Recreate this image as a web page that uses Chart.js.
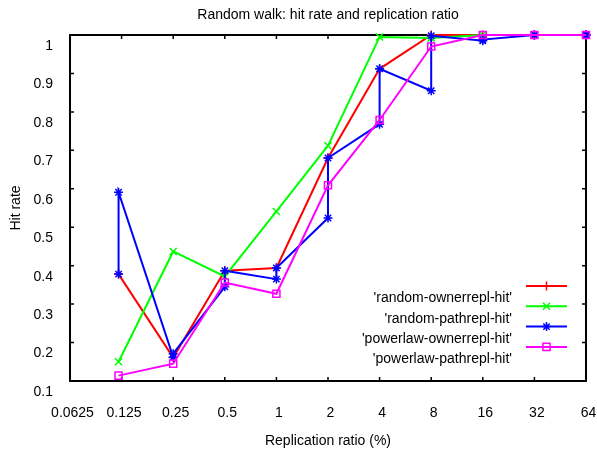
<!DOCTYPE html>
<html>
<head>
<meta charset="utf-8">
<script src="https://cdn.jsdelivr.net/npm/chart.js@4.4.1/dist/chart.umd.min.js"></script>
<style>
  body { margin: 0; background: #fff; }
  #hitChart { display: block; }
</style>
</head>
<body>
<canvas id="hitChart" width="597" height="452"></canvas>
<script>
// replication ratio (%) of each measured point
const ratios = [0.12, 0.25, 0.5, 1, 2, 4, 8, 16, 32, 64];
const xTicks = [0.0625, 0.125, 0.25, 0.5, 1, 2, 4, 8, 16, 32, 64];

const randomOwnerHit = [0.378, 0.161, 0.387, 0.394, 0.680, 0.912, 1.0, 1.0, 1.0, 1.0];
const randomPathHit = [0.150, 0.437, 0.372, 0.541, 0.712, 0.995, 0.992, 1.0, 1.0, 1.0];
// powerlaw-ownerrepl has two runs per ratio, plotted one after the other
const powerlawOwnerHitA = [0.378, 0.162, 0.345, 0.365, 0.524, 0.768, 0.855, 0.985, 1.0, 1.0];
const powerlawOwnerHitB = [0.591, 0.171, 0.387, 0.394, 0.680, 0.912, 0.998, 0.988, 1.0, 1.0];
const powerlawPathHit = [0.114, 0.145, 0.356, 0.327, 0.609, 0.779, 0.970, 1.0, 1.0, 1.0];

const fontFamily = '"Liberation Sans", Arial, sans-serif';
Chart.defaults.font.family = fontFamily;
Chart.defaults.font.size = 14;
Chart.defaults.color = '#000';

function toPoints(xs, ys) {
    return xs.map((x, i) => ({ x: x, y: ys[i] }));
}

const powerlawOwnerPoints = [];
ratios.forEach((x, i) => {
    powerlawOwnerPoints.push({ x: x, y: powerlawOwnerHitA[i] });
    powerlawOwnerPoints.push({ x: x, y: powerlawOwnerHitB[i] });
});

// gnuplot style frame with inward ticks on all four sides
const framePlugin = {
    id: 'frame',
    beforeDatasetsDraw(chart) {
        const { ctx, chartArea: a } = chart;
        const xs = chart.scales.x, ys = chart.scales.y;
        ctx.save();
        ctx.strokeStyle = '#000';
        ctx.lineWidth = 1.5;
        ctx.beginPath();
        xs.ticks.forEach(t => {
            const px = xs.getPixelForValue(t.value);
            ctx.moveTo(px, a.bottom); ctx.lineTo(px, a.bottom - 4);
            ctx.moveTo(px, a.top); ctx.lineTo(px, a.top + 4);
        });
        ys.ticks.forEach(t => {
            const py = ys.getPixelForValue(t.value);
            ctx.moveTo(a.left, py); ctx.lineTo(a.left + 4, py);
            ctx.moveTo(a.right, py); ctx.lineTo(a.right - 4, py);
        });
        ctx.stroke();
        ctx.lineWidth = 2;
        ctx.strokeRect(a.left, a.top, a.right - a.left, a.bottom - a.top);
        ctx.restore();
    }
};

// key inside the plot, text on the left of each sample
const keyPlugin = {
    id: 'key',
    afterDatasetsDraw(chart) {
        const { ctx, chartArea: a } = chart;
        const right = a.right - 19, left = right - 41;
        chart.data.datasets.forEach((ds, i) => {
            const y = a.bottom - 95 + i * 20.3;
            ctx.save();
            ctx.strokeStyle = ds.borderColor;
            ctx.lineWidth = 2;
            ctx.beginPath();
            ctx.moveTo(left, y);
            ctx.lineTo(right, y);
            ctx.stroke();
            ctx.lineWidth = ds.pointBorderWidth;
            ctx.fillStyle = 'rgba(0,0,0,0)';
            if (Chart.helpers && Chart.helpers.drawPoint) {
                Chart.helpers.drawPoint(ctx, {
                    pointStyle: ds.pointStyle,
                    radius: ds.pointRadius,
                    borderWidth: ds.pointBorderWidth,
                    rotation: 0
                }, (left + right) / 2, y);
            }
            ctx.fillStyle = '#000';
            ctx.font = '14px ' + fontFamily;
            ctx.textAlign = 'right';
            ctx.textBaseline = 'middle';
            ctx.fillText(ds.label, left - 14, y + 12.6);
            ctx.restore();
        });
    }
};

const ctx = document.getElementById('hitChart').getContext('2d');
const hitChart = new Chart(ctx, {
    type: 'line',
    data: {
        datasets: [
            {
                label: "'random-ownerrepl-hit'",
                data: toPoints(ratios, randomOwnerHit),
                borderColor: '#ff0000',
                pointStyle: 'cross',
                pointRadius: 4.5,
                order: 3
            },
            {
                label: "'random-pathrepl-hit'",
                data: toPoints(ratios, randomPathHit),
                borderColor: '#00ff00',
                pointStyle: 'crossRot',
                pointRadius: 5,
                order: 2
            },
            {
                label: "'powerlaw-ownerrepl-hit'",
                data: powerlawOwnerPoints,
                borderColor: '#0000ff',
                pointStyle: 'star',
                pointRadius: 4.5,
                order: 1
            },
            {
                label: "'powerlaw-pathrepl-hit'",
                data: toPoints(ratios, powerlawPathHit),
                borderColor: '#ff00ff',
                pointStyle: 'rect',
                pointRadius: 5,
                order: 0
            }
        ].map(ds => Object.assign(ds, {
            backgroundColor: 'rgba(0,0,0,0)',
            borderWidth: 2,
            pointBorderWidth: 1.5,
            pointBorderColor: ds.borderColor,
            tension: 0,
            fill: false,
            clip: 8
        }))
    },
    options: {
        responsive: false,
        animation: false,
        layout: { padding: { left: 0, right: 11, top: 0, bottom: 0 } },
        plugins: {
            legend: { display: false },
            tooltip: { enabled: false },
            title: {
                display: true,
                text: 'Random walk: hit rate and replication ratio',
                fullSize: false,
                font: { size: 14, weight: 'normal' },
                padding: { top: 6.6, bottom: 11.6 }
            }
        },
        scales: {
            x: {
                type: 'logarithmic',
                min: 0.0625,
                max: 64,
                grid: { display: false, drawTicks: false },
                border: { display: false },
                afterBuildTicks: scale => {
                    scale.ticks = xTicks.map(v => ({ value: v }));
                },
                afterFit: scale => {
                    scale.height = 71;
                    scale.paddingLeft = 0;
                    scale.paddingRight = 0;
                },
                ticks: {
                    autoSkip: false,
                    maxRotation: 0,
                    padding: 23.6,
                    labelOffset: 2.5,
                    callback: v => String(v)
                },
                title: {
                    display: true,
                    text: 'Replication ratio (%)',
                    padding: { top: 0, bottom: 2.6 }
                }
            },
            y: {
                type: 'linear',
                min: 0.1,
                max: 1,
                grid: { display: false, drawTicks: false },
                border: { display: false },
                afterFit: scale => {
                    scale.width = 70;
                    scale.paddingTop = 0;
                    scale.paddingBottom = 0;
                },
                ticks: {
                    stepSize: 0.1,
                    padding: 17,
                    labelOffset: 11,
                    callback: v => String(Number(v.toFixed(1)))
                },
                title: {
                    display: true,
                    text: 'Hit rate',
                    padding: { top: 8, bottom: 0 }
                }
            }
        }
    },
    plugins: [framePlugin, keyPlugin]
});
</script>
</body>
</html>
